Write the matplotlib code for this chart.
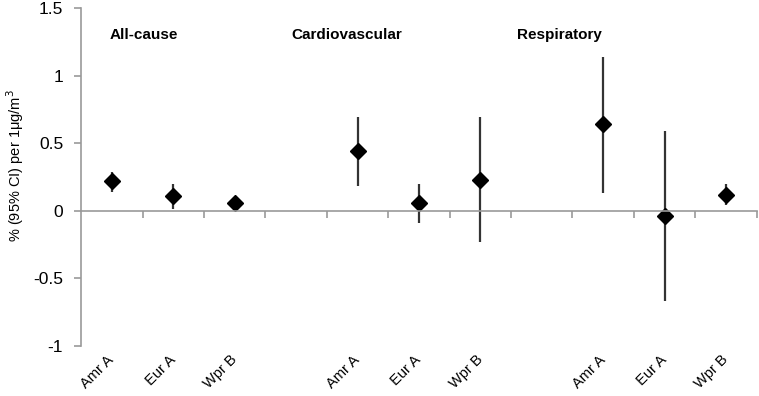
import matplotlib.pyplot as plt
import matplotlib.transforms as mtransforms
import numpy as np

plt.rcParams['font.family'] = ['Liberation Sans', 'DejaVu Sans']

# Data
groups = ["All-cause", "Cardiovascular", "Respiratory"]
group_x = [0.47, 3.43, 7.1]
regions = ["Amr A", "Eur A", "Wpr B"]
estimate = [0.22, 0.11, 0.06, 0.44, 0.06, 0.23, 0.64, -0.04, 0.12]
lower = [0.14, 0.01, 0.04, 0.18, -0.09, -0.23, 0.13, -0.67, 0.04]
upper = [0.29, 0.20, 0.08, 0.69, 0.20, 0.69, 1.14, 0.59, 0.20]

# Slot positions: three regions per group, one empty slot between groups
pos = []
labels = []
for g in range(len(groups)):
    for r in range(len(regions)):
        pos.append(g * 4 + r + 0.5)
        labels.append(regions[r])
pos = np.array(pos)
estimate = np.array(estimate)
yerr = [estimate - np.array(lower), np.array(upper) - estimate]

fig = plt.figure(figsize=(7.59, 3.96), dpi=100)
ax = fig.add_axes([0.107, 0.126, 0.890, 0.854])

ax.errorbar(pos, estimate, yerr=yerr, fmt='D', color='black', ms=8,
            ecolor='#333333', elinewidth=1.6, capsize=0)

ax.set_xlim(0, 11)
ax.set_ylim(-1, 1.5)
ax.set_yticks([-1, -0.5, 0, 0.5, 1, 1.5])
ax.set_yticklabels(["-1", "-0.5", "0", "0.5", "1", "1.5"], fontsize=12.5)
ax.set_ylabel("% (95% CI) per 1μg/m$^3$", fontsize=10.5)
ax.yaxis.set_label_coords(-0.082, 0.535)

# x axis line crosses at zero with tick marks between slots
ax.spines['bottom'].set_position(('data', 0))
ax.spines['top'].set_visible(False)
ax.spines['right'].set_visible(False)
for s in ['left', 'bottom']:
    ax.spines[s].set_color('#999999')
    ax.spines[s].set_linewidth(1.2)
ax.set_xticks(np.arange(1, 12))
ax.set_xticklabels([])
ax.tick_params(axis='x', direction='out', length=5, color='#999999', width=1.2)
ax.tick_params(axis='y', direction='out', length=5, color='#999999', width=1.2,
               pad=8)

# region labels below the plot
trans = mtransforms.blended_transform_factory(ax.transData, ax.transAxes)
for x, lab in zip(pos, labels):
    ax.text(x - 0.08, -0.02, lab, transform=trans, rotation=45,
            ha='right', va='top', fontsize=10.5, rotation_mode='anchor')

# group titles
for gx, name in zip(group_x, groups):
    ax.text(gx, 1.3, name, fontsize=11, fontweight='bold',
            ha='left', va='center')

fig.savefig("out.png", dpi=100)
